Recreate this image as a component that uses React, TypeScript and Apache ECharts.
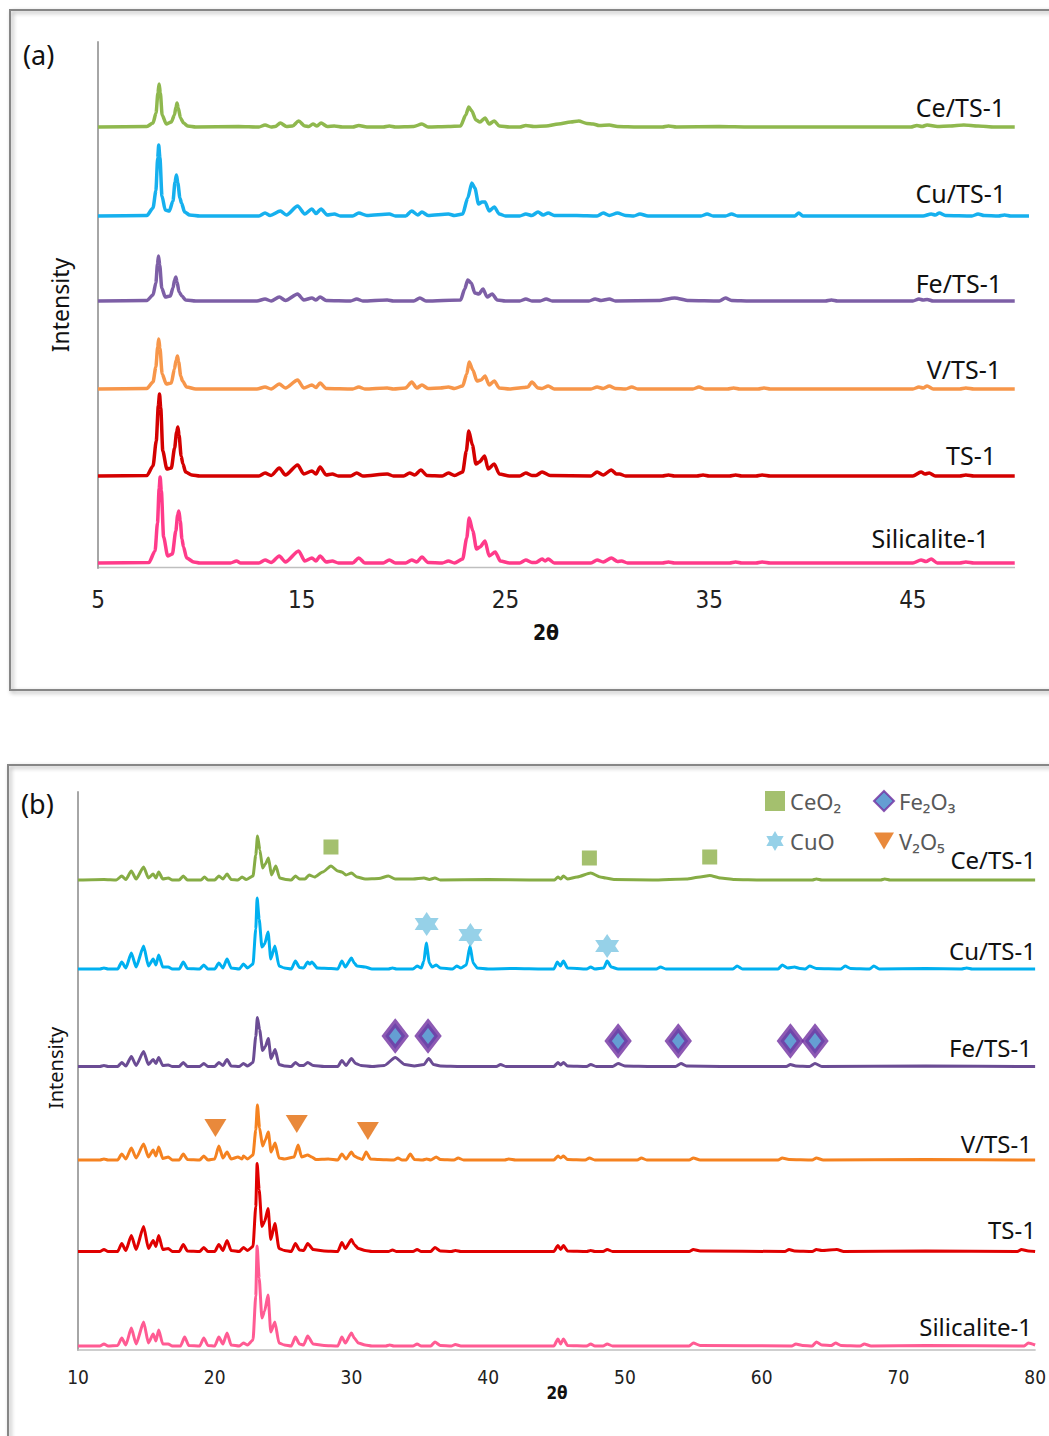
import React, { useEffect, useRef } from "react";
import * as echarts from "echarts";

// ---------- categories / ticks ----------
const SAMPLES = ["Ce/TS-1", "Cu/TS-1", "Fe/TS-1", "V/TS-1", "TS-1", "Silicalite-1"];
const PHASES = ["CeO₂", "CuO", "Fe₂O₃", "V₂O₅"];
const X_TICKS_A = [5, 15, 25, 35, 45];
const X_TICKS_B = [10, 20, 30, 40, 50, 60, 70, 80];

// vertical stacking offsets (intensity units) for each pattern
const OFFSET_A = [441, 352, 267, 179, 92, 5];
const OFFSET_B = [470, 381, 283.5, 190, 98.5, 4];

// ---------- panel (a): 2θ, intensity pairs (flat) ----------
const A_CE = [5,0, 7.4,0.5, 7.7,4, 7.85,14, 7.94,34, 8.0,43, 8.06,34, 8.15,12, 8.35,3, 8.6,5, 8.75,12, 8.83,20, 8.88,24, 8.94,19, 9.05,9, 9.2,4, 9.4,1, 9.8,0, 11.9,0.5, 12.9,0, 13.2,2, 13.5,0, 13.7,0.5, 13.95,4, 14.25,0.5, 14.55,1, 14.85,6, 15.15,1, 15.35,0.5, 15.55,3, 15.75,1, 15.95,4, 16.25,0.5, 16.6,1, 17.0,0, 17.5,0, 17.8,1.5, 18.2,0, 19.0,0, 19.3,1, 19.6,0, 20.5,0.5, 20.9,3, 21.2,0, 22.2,0.5, 22.8,1, 23.05,12, 23.2,20, 23.35,16, 23.55,7, 23.75,5, 24.0,9, 24.2,3, 24.45,6, 24.7,1, 25.2,0, 25.7,0, 26.0,1.5, 26.4,0.5, 27.0,1, 27.6,3, 28.2,5, 28.6,6, 29.0,3.5, 29.3,3, 29.6,1.5, 30.1,2, 30.5,0.5, 31.5,0, 32.7,0, 33.0,1, 33.4,0, 35.5,0.5, 37.0,0, 40,0, 44.9,0, 45.2,1.5, 45.45,0.5, 45.7,2, 46.2,0.5, 46.8,1, 47.5,2, 48.2,1, 49,0, 50,0];
const A_CU = [5,0, 7.4,0.5, 7.7,8, 7.84,25, 7.93,58, 7.98,71, 8.04,58, 8.14,20, 8.3,6, 8.5,5, 8.68,15, 8.78,34, 8.85,41, 8.92,33, 9.02,18, 9.1,13, 9.25,4, 9.5,1, 10,0, 12.9,0, 13.2,3, 13.45,0.5, 13.95,5, 14.25,1, 14.8,10, 15.15,2, 15.5,7, 15.7,2.5, 15.95,7, 16.25,1, 16.6,2, 16.9,0, 17.5,0, 17.8,3, 18.2,0.5, 19.3,2, 19.6,0, 20.1,0, 20.4,5, 20.7,1, 20.9,4, 21.2,0.5, 22.2,2, 22.5,0.5, 22.9,2, 23.15,18, 23.35,33, 23.5,28, 23.68,12, 23.85,14, 24.0,14, 24.2,5, 24.45,9, 24.7,2, 25.0,0, 25.7,0, 26.0,2, 26.3,0.5, 26.6,4, 26.85,1, 27.1,3, 27.4,0.5, 28.5,0.5, 29.5,0, 29.8,3, 30.1,0.5, 30.5,3, 30.9,0.5, 31.3,0, 31.6,2, 32.0,0, 34.6,0, 34.9,2, 35.2,0, 35.8,0, 36.1,2, 36.4,0, 39.2,0, 39.4,3, 39.6,0, 45.5,0, 45.9,2, 46.1,1, 46.3,3, 46.6,0.5, 47.9,0, 48.2,2, 48.5,0.5, 49.2,0, 49.5,1, 49.8,0, 50.7,0];
const A_FE = [5,0, 7.4,0.5, 7.7,6, 7.84,18, 7.92,37, 7.97,45, 8.03,36, 8.13,13, 8.3,4, 8.55,5, 8.68,13, 8.76,21, 8.82,24, 8.88,19, 8.98,9, 9.12,5, 9.3,1, 9.8,0, 12.8,0, 13.2,2, 13.5,0, 13.9,4, 14.2,0.5, 14.8,7, 15.1,1, 15.5,3, 15.7,1, 15.9,4, 16.2,0.5, 17.4,0, 17.7,2, 18.0,0, 19.2,1, 19.5,0, 20.5,0, 20.8,3, 21.1,0, 22.8,1, 23.0,12, 23.15,21, 23.32,18, 23.5,8, 23.7,7, 23.9,12, 24.1,4, 24.35,7, 24.6,1, 25.0,0, 25.7,0, 26.0,2, 26.3,0, 26.7,0, 27.0,2, 27.3,0, 29.1,0, 29.4,2, 29.7,0.5, 30.1,2, 30.4,0, 32.5,0.5, 33.3,3, 34.0,0.5, 35.5,0, 35.8,3, 36.1,0.5, 37.0,0, 40.7,0, 41.0,1, 41.3,0, 45.0,0, 45.3,2, 45.5,1, 45.7,1.5, 46.0,0, 50,0];
const A_V = [5,0, 7.4,0.5, 7.7,7, 7.84,22, 7.93,42, 7.98,50, 8.04,41, 8.15,15, 8.35,5, 8.6,6, 8.75,20, 8.84,29, 8.9,33, 8.96,27, 9.06,13, 9.15,8, 9.35,2, 9.8,0, 12.8,0, 13.2,2, 13.5,0, 13.9,5, 14.2,1, 14.8,9, 15.1,1, 15.5,4, 15.7,1.5, 15.9,6, 16.2,0.5, 17.5,0, 17.8,2, 18.1,0, 19.2,1, 19.5,0, 20.1,1, 20.4,7, 20.65,1, 20.9,4, 21.2,0.5, 21.8,1, 22.2,2, 22.5,0.5, 22.9,3, 23.1,15, 23.22,27, 23.4,19, 23.6,8, 23.8,9, 24.0,13, 24.2,4, 24.45,8, 24.7,1, 25.2,0, 25.9,1.5, 26.1,2, 26.3,7, 26.6,1, 26.8,0.5, 27.1,3, 27.4,0, 29.2,0, 29.5,2, 29.8,0.5, 30.1,3, 30.4,0.5, 30.9,0, 31.2,2, 31.5,0, 34.2,0, 34.5,2, 34.8,0, 35.9,0, 36.2,1, 36.5,0, 37.4,0, 37.7,1, 38.0,0, 45.0,0, 45.3,2, 45.5,1, 45.7,3, 46.0,0, 47.3,0, 47.6,1, 48,0, 50,0];
const A_TS1 = [5,0, 7.4,0.5, 7.7,10, 7.86,35, 7.96,70, 8.02,82, 8.08,68, 8.18,25, 8.38,7, 8.6,8, 8.76,28, 8.86,44, 8.92,49, 8.98,41, 9.08,20, 9.17,12, 9.3,4, 9.6,1, 10,0, 12.9,0, 13.2,3, 13.5,0.5, 13.9,8, 14.2,1, 14.8,11, 15.1,2, 15.5,5, 15.7,2, 15.9,9, 16.2,1, 16.5,2, 16.8,0, 17.4,0, 17.7,3, 18.0,0, 19.2,2, 19.5,0, 20.0,0, 20.3,3, 20.55,1, 20.85,6, 21.15,0.5, 21.9,0, 22.2,3, 22.5,0.5, 22.9,4, 23.08,25, 23.2,45, 23.38,31, 23.55,12, 23.72,14, 23.98,20, 24.15,7, 24.45,12, 24.7,2, 25.2,0, 25.7,0, 26.0,3, 26.3,0.5, 26.5,0.5, 26.8,4, 27.2,0.5, 29.2,0, 29.5,4, 29.8,1, 30.2,6, 30.45,2, 30.6,2, 30.9,0, 32.7,0, 33.0,1, 33.3,0, 34.4,0, 34.7,1, 35.0,0, 36.0,0, 36.3,1, 36.6,0, 37.3,0, 37.6,1, 38,0, 45.0,0, 45.4,4, 45.6,2, 45.8,3, 46.1,0, 47.3,0, 47.6,1, 48,0, 50,0];
const A_SIL = [5,0, 7.5,0.5, 7.8,12, 7.92,40, 8.0,74, 8.05,86, 8.11,72, 8.22,26, 8.42,7, 8.65,9, 8.82,32, 8.91,48, 8.97,52, 9.04,42, 9.12,24, 9.2,16, 9.35,5, 9.7,1, 10,0, 11.5,0, 11.8,2, 12.0,0, 12.9,0, 13.2,3, 13.5,0.5, 13.9,7, 14.2,1, 14.85,12, 15.15,2, 15.5,5, 15.7,2, 15.9,7, 16.2,1, 16.5,2, 16.8,0, 17.5,0, 17.8,5, 18.1,0, 19.0,0, 19.3,3, 19.6,0, 20.1,0, 20.4,3, 20.65,1, 20.9,6, 21.2,0.5, 21.9,0, 22.2,2, 22.5,0, 22.9,4, 23.1,25, 23.22,45, 23.4,32, 23.58,14, 23.75,16, 24.0,22, 24.2,7, 24.5,11, 24.75,2, 25.2,0, 25.7,0, 26.0,3, 26.3,0.5, 26.5,0.5, 26.8,4, 26.95,2, 27.1,4, 27.4,0, 29.2,0, 29.5,3, 29.8,1, 30.2,5, 30.5,1.5, 30.7,2, 31.0,0, 32.7,0, 33.0,1, 33.3,0, 36.0,0, 36.3,1, 36.6,0, 37.3,0, 37.6,1, 38,0, 45.0,0, 45.4,3, 45.65,1.5, 45.9,4, 46.2,0, 47.3,0, 47.6,1, 48,0, 50,0];

// ---------- panel (b) ----------
const B_CE = [10,0, 11.9,0.5, 12.8,0, 13.2,4, 13.5,0.5, 13.9,9, 14.25,1, 14.8,13, 15.15,2, 15.5,6, 15.7,2, 15.9,8, 16.2,1, 16.6,2, 16.9,0, 17.4,0, 17.7,4, 18.0,0, 19.0,0, 19.25,3, 19.5,0, 20.0,0, 20.3,4, 20.6,1, 20.9,6, 21.2,0.5, 21.7,0, 22.0,3, 22.3,0.5, 22.8,4, 23.0,25, 23.13,44, 23.3,30, 23.5,12, 23.7,16, 23.93,22, 24.15,5, 24.47,14, 24.75,2, 25.2,0.5, 25.6,0, 25.9,4, 26.2,1, 26.6,1, 26.9,5, 27.3,3, 27.9,8, 28.5,14, 29.0,9, 29.3,8, 29.6,5, 30.0,7, 30.4,3, 31.0,1, 32.0,1.5, 32.7,4, 33.2,1, 34.5,1, 35.3,2, 35.7,0.5, 36.1,2, 36.5,0, 40,0.5, 43,0, 44.85,0, 45.1,3, 45.3,1, 45.5,4, 45.8,1, 46.5,3, 47.5,7, 48.2,3, 48.6,2, 49.2,0.5, 52,0, 54.5,1, 55.5,3, 56.2,4.5, 57.0,2, 58,0.5, 60,0, 63.7,0, 64.0,1, 64.4,0, 68.7,0, 69.0,1, 69.4,0, 80,0];
const B_CU = [10,0, 11.6,0, 11.9,1, 12.2,0, 12.9,0, 13.2,7, 13.5,1, 13.9,16, 14.25,2, 14.8,23, 15.15,3, 15.5,10, 15.7,4, 15.9,14, 16.2,2, 16.6,2, 16.9,0, 17.4,0, 17.7,7, 18.0,0.5, 18.9,0, 19.2,4, 19.5,0, 20.0,0, 20.3,6, 20.6,1, 20.9,10, 21.2,1, 21.8,0, 22.1,5, 22.4,1, 22.8,5, 23.0,40, 23.1,71, 23.25,50, 23.45,22, 23.65,25, 23.9,37, 24.1,10, 24.4,23, 24.7,3, 25.1,1, 25.6,0, 25.9,8, 26.2,1.5, 26.5,1, 26.8,7, 26.95,5, 27.1,7, 27.5,1, 28.5,0.5, 29.0,0, 29.3,8, 29.55,2, 30.0,11, 30.2,6, 30.4,3, 31.0,2, 31.5,0, 32.7,0, 33.0,1, 33.3,0, 34.5,0, 34.8,3, 35.1,1, 35.3,8, 35.47,26, 35.7,6, 35.9,2, 36.2,4, 36.5,1, 37.4,0, 37.7,3, 38.0,1, 38.4,4, 38.67,23, 38.9,6, 39.2,1, 40,0, 42,0.5, 44,0, 44.8,0, 45.06,7, 45.28,3, 45.5,8, 45.8,1, 47.2,0, 47.5,2, 47.8,0, 48.45,1, 48.7,8, 49.0,2, 49.5,0, 52.3,0, 52.6,2, 53,0, 57.9,0, 58.2,3, 58.6,0, 61.2,0, 61.5,4, 61.9,1, 62.4,2, 62.8,0.5, 63.2,0, 63.5,3, 64.0,0.5, 65.8,0, 66.1,3, 66.5,0.5, 67.9,0, 68.2,3, 68.6,0, 72,0.5, 74.6,0, 75,1, 75.4,0, 80,0];
const B_FE = [10,0, 11.6,0, 11.9,1, 12.2,0, 12.9,0, 13.2,4, 13.5,0.5, 13.9,10, 14.25,1, 14.8,15, 15.15,2, 15.5,7, 15.7,3, 15.9,9, 16.2,1, 16.6,1.5, 16.9,0, 17.4,0, 17.7,4, 18.0,0, 18.9,0, 19.2,3, 19.5,0, 20.0,0, 20.3,4, 20.6,1, 20.9,7, 21.2,0.5, 21.8,0, 22.1,3, 22.4,0.5, 22.8,4, 23.0,30, 23.12,49, 23.28,37, 23.5,16, 23.7,20, 23.92,28, 24.12,8, 24.42,17, 24.7,2, 25.1,0.5, 25.6,0, 25.9,4, 26.2,1, 26.5,1, 26.8,4, 27.2,1, 28,0, 29.0,0, 29.3,6, 29.6,1, 30.0,8, 30.3,3, 30.7,1, 31.5,0, 32.4,1, 33.2,9, 33.9,2, 34.6,0.5, 35.3,2, 35.65,8, 36.0,2, 36.5,0.5, 38,0, 40.6,0, 40.9,2, 41.3,0, 44.8,0, 45.1,4, 45.3,1.5, 45.5,4, 45.8,0.5, 47.2,0, 47.5,2, 47.9,0, 49.1,0, 49.5,3, 50,0.5, 52,0, 53.7,0, 54.1,3, 54.5,0.5, 57,0, 61.8,0, 62.1,2, 62.5,0.5, 63.5,0, 63.9,3, 64.4,0, 72,0.5, 80,0];
const B_V = [10,0, 11.6,0, 11.9,1, 12.2,0, 12.9,0, 13.2,6, 13.5,1, 13.9,12, 14.25,2, 14.8,16, 15.15,3, 15.5,10, 15.7,4, 15.9,13, 16.2,1.5, 16.6,3, 16.9,0, 17.4,0, 17.7,6, 18.0,0.5, 18.9,0, 19.2,4, 19.5,0, 20.0,1, 20.3,14, 20.6,2, 20.9,8, 21.2,1, 21.7,3, 22.0,1, 22.1,4, 22.4,1, 22.8,5, 23.0,30, 23.12,55, 23.28,32, 23.5,14, 23.7,20, 23.92,28, 24.12,8, 24.42,17, 24.7,2, 25.1,1, 25.8,3, 26.1,15, 26.35,3, 26.8,5, 27.1,3, 27.4,0.5, 28.3,1, 29.0,0, 29.3,6, 29.6,1, 30.0,8, 30.2,4, 30.5,2, 30.8,0.5, 31.07,8, 31.4,1, 32,0.5, 33.1,0, 33.4,2, 33.7,0, 34.0,0, 34.3,6, 34.6,0.5, 35.2,0, 35.5,1, 35.8,0, 36.2,3, 36.5,0.5, 37.5,0, 37.8,2, 38.2,0, 40,0, 41.2,0, 41.5,1, 42,0, 44.8,0, 45.1,4, 45.3,2, 45.5,4, 45.8,0.5, 47.1,0, 47.4,2, 47.8,0, 50.9,0, 51.2,2, 51.6,0, 54.7,0, 55.0,2, 55.5,0, 61.2,0, 61.5,2, 62,0.5, 63.7,0, 64.0,2, 64.5,0, 72,0.5, 80,0];
const B_TS1 = [10,0, 11.6,0, 11.9,2, 12.2,0, 12.9,0, 13.2,8, 13.5,1, 13.9,16, 14.25,2, 14.8,25, 15.15,3, 15.5,11, 15.7,5, 15.9,16, 16.2,2, 16.6,3, 16.9,0, 17.4,0, 17.7,7, 18.0,0.5, 18.9,0, 19.2,4, 19.5,0, 20.0,0, 20.3,7, 20.6,1, 20.9,11, 21.2,1, 21.8,0, 22.1,4, 22.4,1, 22.8,5, 23.0,45, 23.1,88, 23.25,62, 23.45,25, 23.65,30, 23.9,43, 24.1,12, 24.4,28, 24.7,3, 25.1,1, 25.6,0, 25.9,8, 26.2,1.5, 26.5,1, 26.8,8, 27.2,2, 28,0.5, 29.0,0, 29.3,9, 29.55,3, 30.0,12, 30.2,7, 30.5,3, 31.0,1, 31.5,0, 32.7,0, 33,1.5, 33.3,0, 34.5,0, 34.8,2, 35.1,0, 35.8,0, 36.1,4, 36.5,0.5, 37.3,0, 37.6,1, 38,0, 44.8,0, 45.1,6, 45.3,2, 45.5,6, 45.8,0.5, 47.2,0, 47.5,1, 47.8,0, 48.4,0, 48.7,2, 49.1,0, 54.7,0, 55.0,2, 55.5,0.5, 61.7,0, 62.0,2, 62.4,0.5, 63.7,0, 64.0,2, 64.4,1, 65.5,2, 66,0, 72,0.5, 78.7,0, 79,2, 79.5,0.5, 80,0];
const B_SIL = [10,0, 11.6,0, 11.9,2, 12.2,0, 12.9,0.5, 13.2,8, 13.5,1, 13.9,18, 14.25,2, 14.8,24, 15.15,3, 15.5,12, 15.7,5, 15.9,16, 16.2,2, 16.6,2, 16.9,0, 17.5,0, 17.8,9, 18.1,0.5, 18.9,0, 19.2,8, 19.5,0.5, 20.0,0, 20.3,9, 20.6,2, 20.9,13, 21.2,1, 21.8,0, 22.1,3, 22.4,1, 22.8,6, 23.0,50, 23.1,100, 23.25,68, 23.45,28, 23.65,35, 23.9,51, 24.1,14, 24.4,24, 24.7,3, 25.1,1, 25.6,0, 25.9,9, 26.2,2, 26.5,1, 26.8,10, 27.2,2, 28,0.5, 29.0,0, 29.3,9, 29.55,3, 30.0,13, 30.2,8, 30.5,3, 31.0,1, 31.5,0, 32.5,0, 32.8,1, 33.1,0, 34.5,0, 34.8,2, 35.1,0, 35.8,0, 36.1,4, 36.5,0.5, 37.3,0, 37.6,1.5, 38,0, 44.8,0, 45.1,7, 45.3,2, 45.5,7, 45.8,0.5, 47.2,0, 47.5,2, 47.8,0, 48.4,0, 48.7,2, 49.1,0, 54.7,0, 55.0,3, 55.5,0.5, 62.2,0, 62.5,2, 63,0.5, 63.7,0, 64.0,4, 64.4,1, 65.1,0.5, 65.4,3, 65.8,0.5, 67.2,0, 67.5,2, 68,0, 72,0.5, 79.2,0, 79.5,3, 80,1];

// ---------- phase markers on panel (b): [2θ, intensity] ----------
const CEO2_MARKS = [[28.5, 503], [47.4, 492], [56.2, 493]];
const CUO_MARKS = [[35.5, 426], [38.7, 415], [48.7, 404]];
const FE2O3_MARKS = [[33.2, 314], [35.6, 314], [49.5, 309], [53.9, 309], [62.1, 309], [63.9, 309]];
const V2O5_MARKS = [[20.05, 222], [26.0, 226], [31.2, 219]];

const PATTERNS_A = [A_CE, A_CU, A_FE, A_V, A_TS1, A_SIL];
const PATTERNS_B = [B_CE, B_CU, B_FE, B_V, B_TS1, B_SIL];

const COLORS_A = ["#8fb84e", "#16b0ee", "#7d5fa6", "#f7964a", "#d40000", "#ff3b8a"];
const COLORS_B = ["#86ac45", "#00b0f0", "#6b4c94", "#f58220", "#e00000", "#ff5b93"];

function pairs(flat: number[], off: number) {
  const out: number[][] = [];
  for (let i = 0; i < flat.length; i += 2) out.push([flat[i], flat[i + 1] + off]);
  return out;
}

const STAR =
  "path://M0,-10 L2.9,-5 L8.66,-5 L5.8,0 L8.66,5 L2.9,5 L0,10 L-2.9,5 L-8.66,5 L-5.8,0 L-8.66,-5 L-2.9,-5 Z";
const TRI_DOWN = "path://M0,0 L20,0 L10,17 Z";

export default function App() {
  const ref = useRef<HTMLDivElement>(null);
  useEffect(() => {
    const chart = echarts.init(ref.current!, null, { renderer: "svg" });
    const FONT = "'Noto Sans', 'Open Sans', sans-serif";
    const NARROW = "'Liberation Sans Narrow', 'DejaVu Sans Condensed', 'Liberation Sans', sans-serif";

    const series: any[] = [];
    PATTERNS_A.forEach((p, i) =>
      series.push({
        type: "line", name: SAMPLES[i] + " (a)", xAxisIndex: 0, yAxisIndex: 0,
        data: pairs(p, OFFSET_A[i]), symbol: "none", silent: true,
        smooth: 0.25, smoothMonotone: "x",
        lineStyle: { color: COLORS_A[i], width: 3.5 }, itemStyle: { color: COLORS_A[i] },
      })
    );
    PATTERNS_B.forEach((p, i) =>
      series.push({
        type: "line", name: SAMPLES[i] + " (b)", xAxisIndex: 1, yAxisIndex: 1,
        data: pairs(p, OFFSET_B[i]), symbol: "none", silent: true,
        smooth: 0.2, smoothMonotone: "x",
        lineStyle: { color: COLORS_B[i], width: 3 }, itemStyle: { color: COLORS_B[i] },
      })
    );
    series.push(
      { type: "scatter", name: PHASES[0], xAxisIndex: 1, yAxisIndex: 1, data: CEO2_MARKS,
        symbol: "rect", symbolSize: 15, itemStyle: { color: "#8db04a" }, z: 5 },
      { type: "scatter", name: PHASES[1], xAxisIndex: 1, yAxisIndex: 1, data: CUO_MARKS,
        symbol: STAR, symbolSize: 24, itemStyle: { color: "#7cc6e2" }, z: 5 },
      { type: "scatter", name: PHASES[2], xAxisIndex: 1, yAxisIndex: 1, data: FE2O3_MARKS,
        symbol: "diamond", symbolSize: [20, 26],
        itemStyle: { color: "#3f86c8", borderColor: "#7030a0", borderWidth: 6 }, z: 5 },
      { type: "scatter", name: PHASES[3], xAxisIndex: 1, yAxisIndex: 1, data: V2O5_MARKS,
        symbol: TRI_DOWN, symbolSize: [22, 18], itemStyle: { color: "#e36c0a" }, z: 5 }
    );

    const labelA = [[1005, 107], [1006, 193], [1002, 283], [1001, 369], [996, 455], [989, 538]];
    const labelB = [[1036, 859], [1036, 950], [1032, 1047], [1032, 1143], [1036, 1229], [1032, 1326]];

    const graphic: any[] = [
      { type: "rect", shape: { x: 10, y: 10, width: 1060, height: 680 }, silent: true,
        style: { fill: "none", stroke: "#868686", lineWidth: 2, shadowBlur: 4, shadowOffsetX: 2,
          shadowOffsetY: 2, shadowColor: "rgba(0,0,0,0.35)" } },
      { type: "rect", shape: { x: 8, y: 765, width: 1060, height: 700 }, silent: true,
        style: { fill: "none", stroke: "#868686", lineWidth: 2, shadowBlur: 4, shadowOffsetX: 2,
          shadowOffsetY: 2, shadowColor: "rgba(0,0,0,0.35)" } },
      // x-axis line of panel (a), ending at 2θ = 50
      { type: "line", shape: { x1: 97, y1: 567.5, x2: 1015, y2: 567.5 }, silent: true,
        style: { stroke: "#bfbfbf", lineWidth: 1.5 } },
      { type: "text", x: 23, y: 54, style: { text: "(a)", fontSize: 27, fontFamily: FONT, fill: "#111",
          align: "left", verticalAlign: "middle" } },
      { type: "text", x: 21, y: 803, style: { text: "(b)", fontSize: 27, fontFamily: FONT, fill: "#111",
          align: "left", verticalAlign: "middle" } },
      { type: "text", x: 546, y: 633, style: { text: "2θ", fontSize: 21, fontWeight: "bold", fontFamily: NARROW,
          fill: "#111", align: "center", verticalAlign: "middle" } },
      { type: "text", x: 557, y: 1393, style: { text: "2θ", fontSize: 17, fontWeight: "bold", fontFamily: NARROW,
          fill: "#111", align: "center", verticalAlign: "middle" } },
      { type: "text", x: 60, y: 305, rotation: Math.PI / 2, style: { text: "Intensity", fontSize: 23,
          fontFamily: FONT, fill: "#111", align: "center", verticalAlign: "middle" } },
      { type: "text", x: 55, y: 1068, rotation: Math.PI / 2, style: { text: "Intensity", fontSize: 20,
          fontFamily: FONT, fill: "#111", align: "center", verticalAlign: "middle" } },
    ];
    SAMPLES.forEach((s, i) => {
      graphic.push({ type: "text", x: labelA[i][0], y: labelA[i][1], style: { text: s, fontSize: 25,
        fontFamily: FONT, fill: "#111", align: "right", verticalAlign: "middle" } });
      graphic.push({ type: "text", x: labelB[i][0], y: labelB[i][1], style: { text: s, fontSize: 24,
        fontFamily: FONT, fill: "#111", align: "right", verticalAlign: "middle" } });
    });

    const legendText = { fontSize: 22, color: "#595959", fontFamily: FONT };

    chart.setOption({
      animation: false,
      backgroundColor: "#ffffff",
      grid: [
        { left: 98, top: 42, width: 932, height: 526 },
        { left: 78, top: 792, width: 961, height: 558 },
      ],
      xAxis: [
        { type: "value", gridIndex: 0, min: 5, max: 50.75, interval: 5,
          axisLine: { show: false },
          axisTick: { show: false }, splitLine: { show: false },
          axisLabel: { margin: 20, fontSize: 24, fontFamily: NARROW, color: "#222",
            showMaxLabel: false,
            formatter: (v: number) => (X_TICKS_A.indexOf(v) >= 0 ? String(v) : "") } },
        { type: "value", gridIndex: 1, min: 10, max: 80, interval: 10,
          axisLine: { show: true, lineStyle: { color: "#bfbfbf", width: 1.5 } },
          axisTick: { show: false }, splitLine: { show: false },
          axisLabel: { margin: 17, fontSize: 19, fontFamily: NARROW, color: "#222",
            formatter: (v: number) => (X_TICKS_B.indexOf(v) >= 0 ? String(v) : "") } },
      ],
      yAxis: [
        { type: "value", gridIndex: 0, min: 0, max: 526, axisLabel: { show: false },
          axisTick: { show: false }, splitLine: { show: false },
          axisLine: { show: true, lineStyle: { color: "#a6a6a6", width: 2 } } },
        { type: "value", gridIndex: 1, min: 0, max: 558, axisLabel: { show: false },
          axisTick: { show: false }, splitLine: { show: false },
          axisLine: { show: true, lineStyle: { color: "#a6a6a6", width: 2 } } },
      ],
      legend: [
        { data: [{ name: PHASES[0], icon: "rect" }, { name: PHASES[1], icon: STAR }],
          orient: "vertical", left: 760, top: 785, itemGap: 18, itemWidth: 20, itemHeight: 20,
          selectedMode: false, textStyle: legendText },
        { data: [{ name: PHASES[2], icon: "diamond" }, { name: PHASES[3], icon: TRI_DOWN }],
          orient: "vertical", left: 868, top: 785, itemGap: 18, itemWidth: 20, itemHeight: 20,
          selectedMode: false, textStyle: legendText },
      ],
      graphic,
      series,
    });
    return () => chart.dispose();
  }, []);
  return <div ref={ref} style={{ position: "absolute", left: 0, top: 0, width: 1049, height: 1436 }} />;
}
